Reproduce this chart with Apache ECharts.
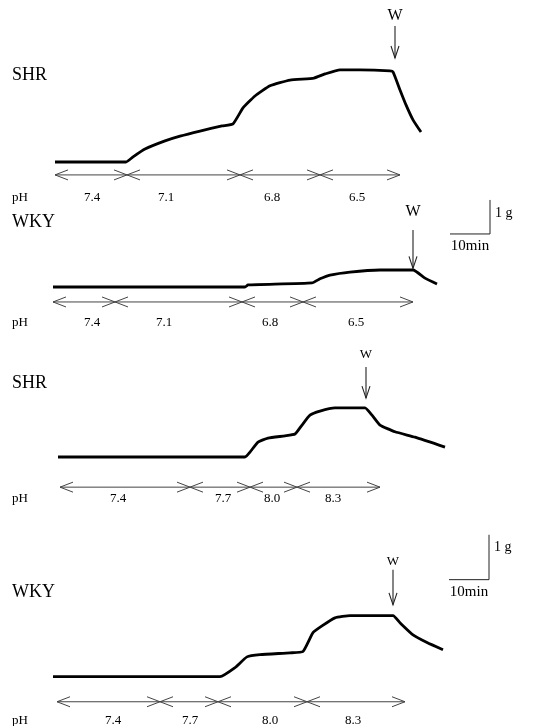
<!DOCTYPE html>
<html><head><meta charset="utf-8">
<script src="https://cdn.jsdelivr.net/npm/echarts@6/dist/echarts.min.js"></script>
<style>html,body{margin:0;padding:0;background:#fff}#c{width:544px;height:726px}</style>
</head><body><div id="c"></div>
<script>
// ---- DATA (time in min, tension in g above baseline) ----
const traceSHR1 = [[2.5,0],[20.25,0],[22,0.15],[25,0.38],[30,0.62],[33.75,0.76],[38.75,0.91],[44.25,1.06],[47,1.12],[49.5,1.59],[52.5,1.94],[56.25,2.24],[61.25,2.41],[67.25,2.47],[70,2.59],[73.75,2.71],[78.75,2.71],[86.25,2.68],[87,2.65],[88.75,2.12],[90.25,1.68],[92,1.24],[94,0.88]];
const traceWKY1 = [[2,0],[50,0],[50.75,0.06],[66.75,0.12],[68.75,0.24],[71.25,0.35],[76.25,0.44],[83.75,0.5],[92,0.5],[95,0.26],[98,0.09]];
const traceSHR2 = [[3.25,0],[50,0],[51.25,0.11],[53.25,0.33],[55.75,0.42],[60,0.47],[62.5,0.51],[64.25,0.71],[66.25,0.93],[68.75,1.02],[72.5,1.09],[80,1.09],[81.75,0.93],[83.75,0.71],[87.5,0.56],[92.5,0.44],[100,0.22]];
const traceWKY2 = [[2,0],[43.75,0],[47.5,0.2],[50.5,0.44],[53.75,0.49],[61.25,0.53],[64.5,0.56],[67,0.98],[69.25,1.13],[72.5,1.31],[76.25,1.36],[87,1.36],[88.75,1.2],[92,0.93],[95.5,0.76],[99.5,0.6]];

const phBounds1 = [2.5, 20.5, 48.75, 68.75, 88.75];
const phBounds2 = [2, 17.5, 49.25, 64.5, 92];
const phBounds3 = [3.75, 36.25, 51.25, 63, 83.75];
const phBounds4 = [3, 28.75, 43.25, 65.5, 90];
const phAcid = ['7.4','7.1','6.8','6.5'];
const phAlk = ['7.4','7.7','8.0','8.3'];
const phLabelT1 = [11.75, 30.25, 56.75, 78];
const phLabelT2 = [11.75, 29.75, 56.25, 77.75];
const phLabelT3 = [18.25, 44.5, 56.75, 72];
const phLabelT4 = [17, 36.25, 56.25, 77];

const washT = [87.5, 92, 80.25, 87];
const scaleMin = 10, scaleG = 1;
const scaleCorner2 = [111.25, 1.56];
const scaleCorner4 = [111, 2.16];
const strainNames = ['SHR','WKY','SHR','WKY'];

// ---- LAYOUT ----
const FONT = '"Liberation Serif","Times New Roman",serif';
const panels = [
  {top:0.5, height:212.5, yMin:-1.5, yMax:4.75, trace:traceSHR1, bounds:phBounds1, labels:phAcid, labelT:phLabelT1, arrowG:-0.38, labelG:-1.06, wTop:4.0, wTip:3.06, wLab:4.3, wFont:16, nameY:75},
  {top:185, height:153, yMin:-1.5, yMax:3, trace:traceWKY1, bounds:phBounds2, labels:phAcid, labelT:phLabelT2, arrowG:-0.44, labelG:-1.06, wTop:1.68, wTip:0.55, wLab:2.2, wFont:16, nameY:222, scale:scaleCorner2},
  {top:340, height:171, yMin:-1.2, yMax:2.6, trace:traceSHR2, bounds:phBounds3, labels:phAlk, labelT:phLabelT3, arrowG:-0.67, labelG:-0.92, wTop:2.0, wTip:1.31, wLab:2.27, wFont:13, nameY:383},
  {top:524, height:202.5, yMin:-1.1, yMax:3.4, trace:traceWKY2, bounds:phBounds4, labels:phAlk, labelT:phLabelT4, arrowG:-0.56, labelG:-0.98, wTop:2.38, wTip:1.6, wLab:2.56, wFont:13, nameY:592, scale:scaleCorner4}
];

const chart = echarts.init(document.getElementById('c'), null, {renderer:'canvas'});
const grids=[], xAxes=[], yAxes=[], series=[], graphics=[];
const arrowStyle = {stroke:'#444', lineWidth:1, fill:null};

panels.forEach((p,i)=>{
  grids.push({left:0, width:520, top:p.top, height:p.height});
  xAxes.push({type:'value', gridIndex:i, min:-11.25, max:118.75, show:false});
  yAxes.push({type:'value', gridIndex:i, min:p.yMin, max:p.yMax, show:false});
  series.push({type:'line', xAxisIndex:i, yAxisIndex:i, data:p.trace, showSymbol:false, smooth:0.15,
    lineStyle:{color:'#000', width:2.8}, silent:true, z:5});
  const phData = p.labels.map((l,k)=>[p.bounds[k], p.bounds[k+1], p.labelT[k]]);
  series.push({type:'custom', xAxisIndex:i, yAxisIndex:i, data:phData, silent:true,
    renderItem:(params, api)=>{
      const p0=api.coord([api.value(0),p.arrowG]), p1=api.coord([api.value(1),p.arrowG]);
      const pl=api.coord([api.value(2),p.labelG]);
      const L=13,H=5;
      const ch=[
        {type:'line',shape:{x1:p0[0],y1:p0[1],x2:p1[0],y2:p1[1]},style:arrowStyle},
        {type:'polyline',shape:{points:[[p0[0]+L,p0[1]-H],p0,[p0[0]+L,p0[1]+H]]},style:arrowStyle},
        {type:'polyline',shape:{points:[[p1[0]-L,p1[1]-H],p1,[p1[0]-L,p1[1]+H]]},style:arrowStyle},
        {type:'text',x:pl[0],y:pl[1],style:{text:p.labels[params.dataIndex],font:'13px '+FONT,fill:'#000',align:'center',verticalAlign:'middle'}}
      ];
      if(params.dataIndex===0){
        const ph=api.coord([-6.25,p.labelG]);
        ch.push({type:'text',x:ph[0],y:ph[1],style:{text:'pH',font:'13px '+FONT,fill:'#000',align:'center',verticalAlign:'middle'}});
      }
      return {type:'group',children:ch};
    }});
  series.push({type:'custom', xAxisIndex:i, yAxisIndex:i, data:[[washT[i]]], silent:true,
    renderItem:(params, api)=>{
      const t=api.value(0);
      const a=api.coord([t,p.wTop]), b=api.coord([t,p.wTip]), c=api.coord([t,p.wLab]);
      const st={stroke:'#222',lineWidth:1.1,fill:null};
      return {type:'group',children:[
        {type:'line',shape:{x1:a[0],y1:a[1],x2:b[0],y2:b[1]},style:st},
        {type:'polyline',shape:{points:[[b[0]-4,b[1]-12],b,[b[0]+4,b[1]-12]]},style:st},
        {type:'text',x:c[0],y:c[1],style:{text:'W',font:p.wFont+'px '+FONT,fill:'#000',align:'center',verticalAlign:'middle'}}
      ]};
    }});
  if(p.scale){
    series.push({type:'custom', xAxisIndex:i, yAxisIndex:i, data:[p.scale], silent:true,
      renderItem:(params, api)=>{
        const t=api.value(0), g=api.value(1);
        const c=api.coord([t,g]), l=api.coord([t-scaleMin,g]), u=api.coord([t,g+scaleG]);
        const st={stroke:'#222',lineWidth:1,fill:null};
        return {type:'group',children:[
          {type:'polyline',shape:{points:[l,c,u]},style:st},
          {type:'text',x:c[0]+5,y:u[1]+13,style:{text:'1 g',font:'14px '+FONT,fill:'#000',align:'left',verticalAlign:'middle'}},
          {type:'text',x:(l[0]+c[0])/2,y:c[1]+12,style:{text:'10min',font:'15px '+FONT,fill:'#000',align:'center',verticalAlign:'middle'}}
        ]};
      }});
  }
  graphics.push({type:'text', left:12, top:p.nameY-9, style:{text:strainNames[i], font:'18px '+FONT, fill:'#000'}});
});

chart.setOption({animation:false, backgroundColor:'#fff', grid:grids, xAxis:xAxes, yAxis:yAxes, series:series, graphic:graphics});
</script></body></html>
